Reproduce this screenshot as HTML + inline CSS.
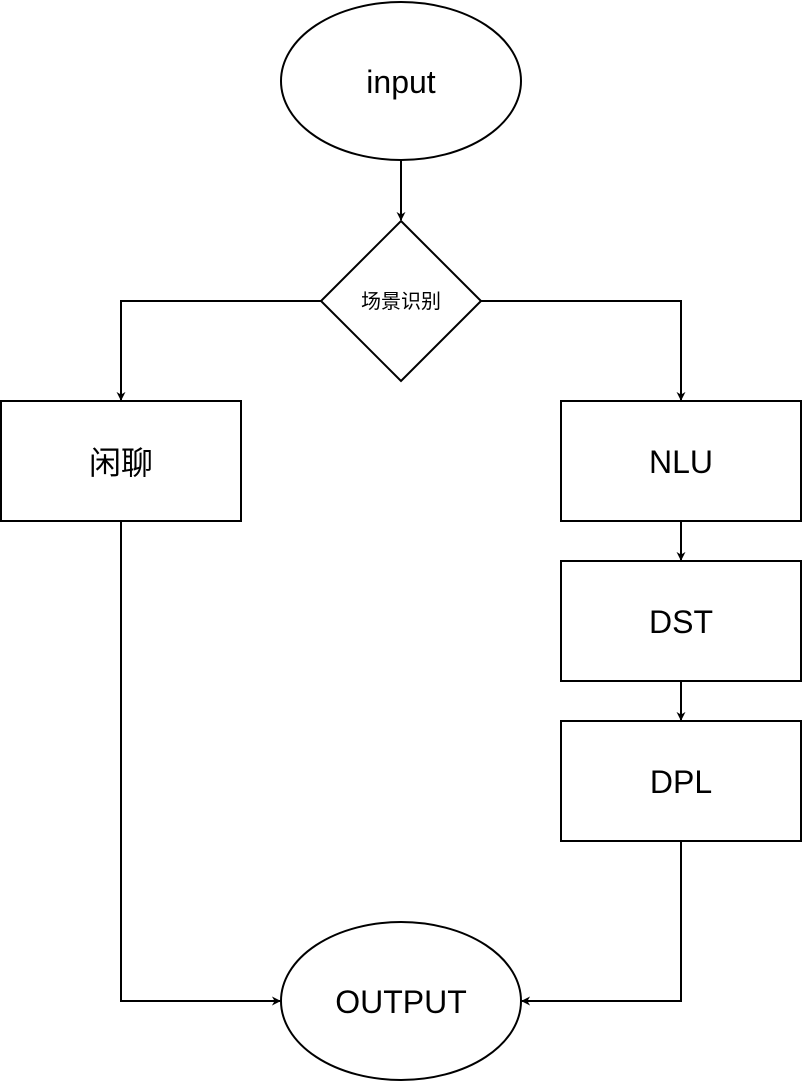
<!DOCTYPE html>
<html><head><meta charset="utf-8"><style>html,body{margin:0;padding:0;background:#fff}</style></head>
<body>
<svg width="802" height="1082" viewBox="0 0 802 1082" xmlns="http://www.w3.org/2000/svg" style="display:block">
<defs><marker id="a" viewBox="0 0 10 10" refX="9" refY="5" markerWidth="9" markerHeight="9" orient="auto" markerUnits="userSpaceOnUse"><path d="M0,0 L10,5 L0,10 L3,5 Z" fill="#000"/></marker></defs>
<g fill="none" stroke="#000" stroke-width="2">
<ellipse cx="401" cy="81" rx="120" ry="79" fill="#fff"/>
<path d="M401,160 V220" marker-end="url(#a)"/>
<polygon points="401,221 481,301 401,381 321,301" fill="#fff"/>
<path d="M321,301 H121 V400" marker-end="url(#a)"/>
<path d="M481,301 H681 V400" marker-end="url(#a)"/>
<rect x="1" y="401" width="240" height="120" fill="#fff"/>
<rect x="561" y="401" width="240" height="120" fill="#fff"/>
<rect x="561" y="561" width="240" height="120" fill="#fff"/>
<rect x="561" y="721" width="240" height="120" fill="#fff"/>
<path d="M681,521 V560" marker-end="url(#a)"/>
<path d="M681,681 V720" marker-end="url(#a)"/>
<path d="M121,521 V1001 H280" marker-end="url(#a)"/>
<path d="M681,841 V1001 H522" marker-end="url(#a)"/>
<ellipse cx="401" cy="1001" rx="120" ry="79" fill="#fff"/>
</g>
<g font-family="Liberation Sans, Noto Sans CJK SC, sans-serif" font-size="32" text-anchor="middle" fill="#000">
<text x="401" y="93">input</text>
<text x="401" y="308" font-size="20">场景识别</text>
<text x="121" y="474">闲聊</text>
<text x="681" y="473">NLU</text>
<text x="681" y="633">DST</text>
<text x="681" y="793">DPL</text>
<text x="401" y="1013">OUTPUT</text>
</g>
</svg>
</body></html>
